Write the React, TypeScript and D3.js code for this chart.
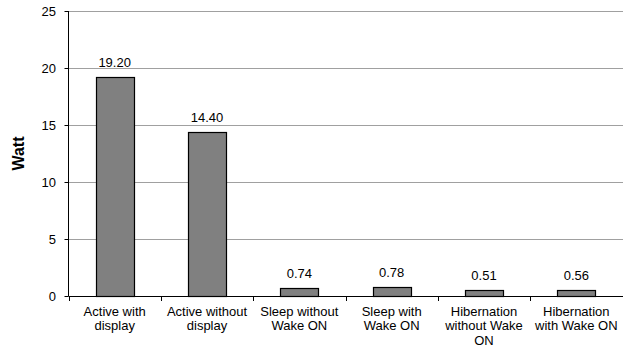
import React from "react";
import * as d3 from "d3";

const categories: string[][] = [
  ["Active with", "display"],
  ["Active without", "display"],
  ["Sleep without", "Wake ON"],
  ["Sleep with", "Wake ON"],
  ["Hibernation", "without Wake", "ON"],
  ["Hibernation", "with Wake ON"],
];
const values: number[] = [19.2, 14.4, 0.74, 0.78, 0.51, 0.56];
const yTicks: number[] = [0, 5, 10, 15, 20, 25];
const yLabel = "Watt";

const W = 623;
const H = 347;
const M = { left: 68.5, right: 0.5, top: 11, bottom: 51 };

export default function App() {
  const x = d3
    .scaleBand<number>()
    .domain(values.map((_, i) => i))
    .range([M.left, W - M.right])
    .paddingInner(0.59)
    .paddingOuter(0.295);
  const y = d3.scaleLinear().domain([0, 25]).range([H - M.bottom, M.top]);
  const step = (W - M.right - M.left) / values.length;
  const font = "Arial, 'Liberation Sans', sans-serif";
  const fs = 13;
  return (
    <svg
      width={W}
      height={H}
      style={{ position: "absolute", left: 0, top: 0, fontFamily: font }}
    >
      {yTicks.map((t) => (
        <g key={t}>
          {t > 0 && (
            <line
              x1={M.left}
              x2={W}
              y1={Math.round(y(t)) + 0.5}
              y2={Math.round(y(t)) + 0.5}
              stroke="#a0a0a0"
              strokeWidth={1}
            />
          )}
          <line
            x1={M.left - 4}
            x2={M.left}
            y1={Math.round(y(t)) + 0.5}
            y2={Math.round(y(t)) + 0.5}
            stroke="#000"
          />
          <text
            x={M.left - 12.5}
            y={y(t)}
            dy="0.35em"
            textAnchor="end"
            fontSize={fs}
            fill="#000"
          >
            {t}
          </text>
        </g>
      ))}
      {values.map((v, i) => (
        <g key={i}>
          <rect
            x={Math.round(x(i)!) + 0.5}
            y={Math.round(y(v)) + 0.5}
            width={Math.round(x.bandwidth())}
            height={Math.round(y(0)) - Math.round(y(v))}
            fill="#808080"
            stroke="#000"
            strokeWidth={1.2}
          />
          <text
            x={x(i)! + x.bandwidth() / 2}
            y={y(v) - 10}
            textAnchor="middle"
            fontSize={fs}
            fill="#000"
          >
            {v.toFixed(2)}
          </text>
        </g>
      ))}
      {d3.range(values.length + 1).map((k) => (
        <line
          key={k}
          x1={Math.round(M.left + k * step) + 0.5}
          x2={Math.round(M.left + k * step) + 0.5}
          y1={y(0)}
          y2={y(0) + 5}
          stroke="#000"
        />
      ))}
      <line x1={M.left} x2={M.left} y1={M.top} y2={y(0)} stroke="#000" />
      <line x1={M.left} x2={W} y1={Math.round(y(0)) + 0.5} y2={Math.round(y(0)) + 0.5} stroke="#000" />
      {categories.map((lines, i) => (
        <text
          key={i}
          x={x(i)! + x.bandwidth() / 2}
          y={y(0) + 19.5}
          textAnchor="middle"
          fontSize={fs}
          fill="#000"
        >
          {lines.map((l, j) => (
            <tspan key={j} x={x(i)! + x.bandwidth() / 2} dy={j === 0 ? 0 : 14.5}>
              {l}
            </tspan>
          ))}
        </text>
      ))}
      <text
        transform={`translate(24, ${(M.top + y(0)) / 2}) rotate(-90)`}
        textAnchor="middle"
        fontSize={16}
        fontWeight="bold"
        fill="#000"
      >
        {yLabel}
      </text>
    </svg>
  );
}
